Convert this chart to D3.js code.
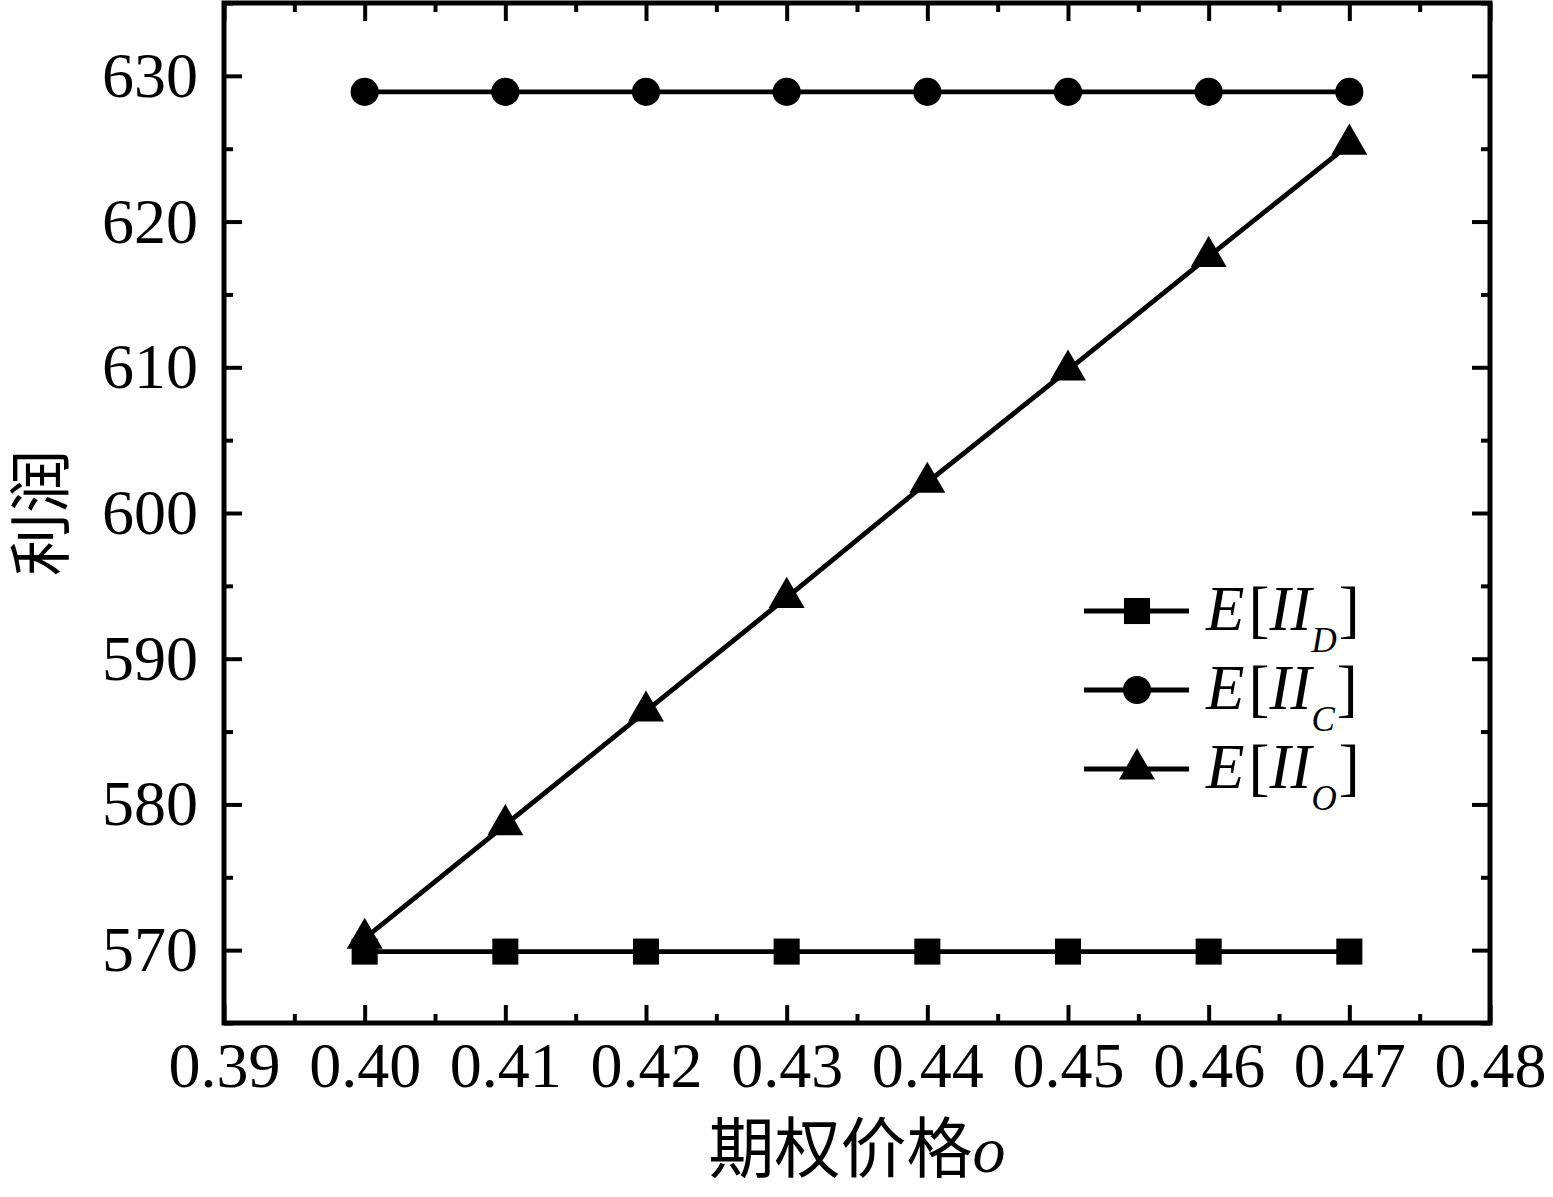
<!DOCTYPE html>
<html>
<head>
<meta charset="utf-8">
<script src="https://cdn.jsdelivr.net/npm/d3@7"></script>
<style>
  body { margin: 0; background: #fff; }
  svg { display: block; }
</style>
</head>
<body>
<div id="chart"></div>
<script>
// valores
const optionPrices = [0.40, 0.41, 0.42, 0.43, 0.44, 0.45, 0.46, 0.47];
const profitD = [569.9, 569.9, 569.9, 569.9, 569.9, 569.9, 569.9, 569.9];
const profitC = [628.9, 628.9, 628.9, 628.9, 628.9, 628.9, 628.9, 628.9];
const profitO = [570.8, 578.6, 586.4, 594.2, 602.1, 609.8, 617.6, 625.3];

const xTicks = [0.39, 0.40, 0.41, 0.42, 0.43, 0.44, 0.45, 0.46, 0.47, 0.48];
const xMinor = [0.395, 0.405, 0.415, 0.425, 0.435, 0.445, 0.455, 0.465, 0.475];
const yTicks = [570, 580, 590, 600, 610, 620, 630];
const yMinor = [565, 575, 585, 595, 605, 615, 625, 635];

const seriesSubs = ["D", "C", "O"];
const xTitle = "期权价格";
const yTitle = "利润";

const W = 1553, H = 1197;
const plot = { left: 224, right: 1490, top: 3, bottom: 1023 };
const numFont = "'Liberation Serif', 'DejaVu Serif', serif";
const cjkFont = "'Noto Sans CJK SC', sans-serif";

const svg = d3.select("#chart").append("svg")
    .attr("width", W)
    .attr("height", H);

const x = d3.scaleLinear().domain([0.39, 0.48]).range([plot.left, plot.right]);
const y = d3.scaleLinear().domain([565, 635]).range([plot.bottom, plot.top]);

// ejes con ticks hacia dentro, en los cuatro lados
function styleAxis(g) {
    g.select(".domain").remove();
    g.selectAll(".tick line").attr("stroke", "#000").attr("stroke-width", 4);
    g.selectAll(".tick text")
        .attr("fill", "#000")
        .style("font-family", numFont)
        .style("font-size", "64px");
}

svg.append("g")
    .attr("transform", `translate(0,${plot.bottom})`)
    .call(d3.axisBottom(x).tickValues(xTicks).tickSize(-18).tickPadding(19).tickFormat(d3.format(".2f")))
    .call(styleAxis);
svg.append("g")
    .attr("transform", `translate(0,${plot.bottom})`)
    .call(d3.axisBottom(x).tickValues(xMinor).tickSize(-9).tickFormat(""))
    .call(styleAxis);
svg.append("g")
    .attr("transform", `translate(0,${plot.top})`)
    .call(d3.axisTop(x).tickValues(xTicks).tickSize(-18).tickFormat(""))
    .call(styleAxis);
svg.append("g")
    .attr("transform", `translate(0,${plot.top})`)
    .call(d3.axisTop(x).tickValues(xMinor).tickSize(-9).tickFormat(""))
    .call(styleAxis);

svg.append("g")
    .attr("transform", `translate(${plot.left},0)`)
    .call(d3.axisLeft(y).tickValues(yTicks).tickSize(-18).tickPadding(26).tickFormat(d3.format("d")))
    .call(styleAxis);
svg.append("g")
    .attr("transform", `translate(${plot.left},0)`)
    .call(d3.axisLeft(y).tickValues(yMinor).tickSize(-9).tickFormat(""))
    .call(styleAxis);
svg.append("g")
    .attr("transform", `translate(${plot.right},0)`)
    .call(d3.axisRight(y).tickValues(yTicks).tickSize(-18).tickFormat(""))
    .call(styleAxis);
svg.append("g")
    .attr("transform", `translate(${plot.right},0)`)
    .call(d3.axisRight(y).tickValues(yMinor).tickSize(-9).tickFormat(""))
    .call(styleAxis);

// marco
svg.append("rect")
    .attr("x", plot.left)
    .attr("y", plot.top)
    .attr("width", plot.right - plot.left)
    .attr("height", plot.bottom - plot.top)
    .attr("fill", "none")
    .attr("stroke", "#000")
    .attr("stroke-width", 5);

const series = [
    { values: profitD, symbol: d3.symbolSquare, size: 680 },
    { values: profitC, symbol: d3.symbolCircle, size: 620 },
    { values: profitO, symbol: d3.symbolTriangle, size: 560 }
];

const line = d3.line()
    .x(d => x(d[0]))
    .y(d => y(d[1]));

series.forEach(s => {
    const pts = optionPrices.map((p, i) => [p, s.values[i]]);
    svg.append("path")
        .datum(pts)
        .attr("fill", "none")
        .attr("stroke", "#000")
        .attr("stroke-width", 4.8)
        .attr("d", line);
    svg.append("g")
        .selectAll("path")
        .data(pts)
        .join("path")
        .attr("transform", d => `translate(${x(d[0])},${y(d[1])})`)
        .attr("d", d3.symbol().type(s.symbol).size(s.size))
        .attr("fill", "#000");
});

// leyenda
const legend = svg.append("g");
series.forEach((s, i) => {
    const ly = 611 + i * 79;
    const row = legend.append("g").attr("transform", `translate(0,${ly})`);
    row.append("line")
        .attr("x1", 1084).attr("x2", 1189)
        .attr("stroke", "#000").attr("stroke-width", 4.8);
    row.append("path")
        .attr("transform", "translate(1137,0)")
        .attr("d", d3.symbol().type(s.symbol).size(s.size))
        .attr("fill", "#000");
    const t = row.append("text")
        .attr("x", 1206)
        .attr("y", 19)
        .style("font-family", numFont)
        .style("font-size", "63px")
        .attr("fill", "#000");
    t.append("tspan").style("font-style", "italic").text("E");
    t.append("tspan").attr("dx", 4).text("[");
    t.append("tspan").style("font-style", "italic").text("II");
    t.append("tspan").style("font-style", "italic").style("font-size", "35px").attr("dy", 22).text(seriesSubs[i]);
    t.append("tspan").attr("dy", -22).attr("dx", 2).text("]");
});

// títulos de ejes
const xt = svg.append("text")
    .attr("x", (plot.left + plot.right) / 2)
    .attr("y", 1172)
    .attr("text-anchor", "middle")
    .attr("fill", "#000")
    .style("font-family", cjkFont)
    .style("font-size", "66px");
xt.append("tspan").text(xTitle);
xt.append("tspan").style("font-family", numFont).style("font-style", "italic").text("o");

svg.append("text")
    .attr("transform", `translate(63,${(plot.top + plot.bottom) / 2}) rotate(-90)`)
    .attr("text-anchor", "middle")
    .attr("fill", "#000")
    .style("font-family", cjkFont)
    .style("font-size", "63px")
    .text(yTitle);
</script>
</body>
</html>
